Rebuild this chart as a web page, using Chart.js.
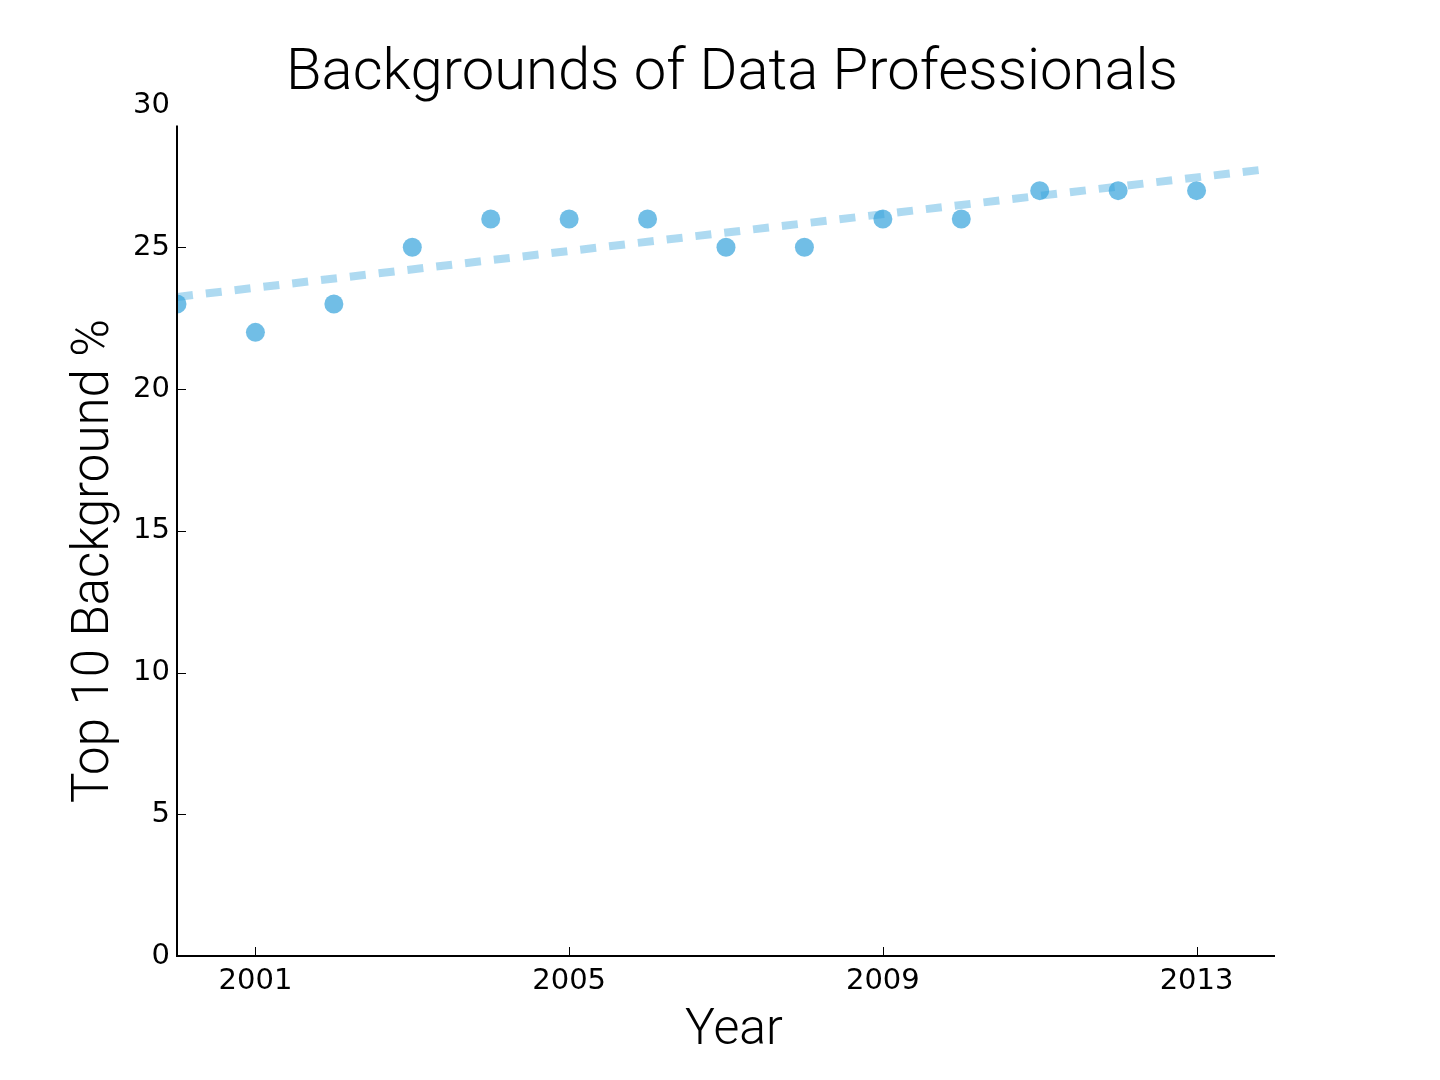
<!DOCTYPE html>
<html>
<head>
<meta charset="utf-8">
<script src="https://cdn.jsdelivr.net/npm/chart.js@4.4.1/dist/chart.umd.min.js"></script>
<style>
  html, body { margin: 0; padding: 0; background: #fff; }
  #wrap { width: 1440px; height: 1080px; }
</style>
</head>
<body>
<div id="wrap"><canvas id="chart" width="1440" height="1080"></canvas></div>
<script>
// ---------- data ----------
var years = [2000, 2001, 2002, 2003, 2004, 2005, 2006, 2007, 2008, 2009, 2010, 2011, 2012, 2013];
var percents = [23, 22, 23, 25, 26, 26, 26, 25, 25, 26, 26, 27, 27, 27];
// dashed trend line end points
var trendYears = [2000, 2013.87];
var trendValues = [23.25, 27.75];
var xTicks = [2001, 2005, 2009, 2013];
var yTicks = [0, 5, 10, 15, 20, 25, 30];

var scatterData = years.map(function (y, i) {
  return { x: y, y: percents[i] };
});
var trendData = trendYears.map(function (y, i) {
  return { x: y, y: trendValues[i] };
});

var lightFont = "Roboto, 'Helvetica Neue', Helvetica, Arial, sans-serif";
var tickFont = "'DejaVu Sans', sans-serif";

// spines + inward ticks + axis titles (matplotlib look)
var axesPlugin = {
  id: "axesLook",
  afterDraw: function (chart) {
    var ctx = chart.ctx;
    var xs = chart.scales.x;
    var ys = chart.scales.y;
    var area = chart.chartArea;
    var spineTop = ys.getPixelForValue(29.3);

    ctx.save();
    ctx.strokeStyle = "#000";
    ctx.lineWidth = 2;
    ctx.beginPath();
    ctx.moveTo(area.left, spineTop);
    ctx.lineTo(area.left, area.bottom);
    ctx.lineTo(area.right, area.bottom);
    ctx.stroke();

    ctx.lineWidth = 1;
    ctx.beginPath();
    yTicks.forEach(function (v) {
      if (v > 29.3) return;
      var py = Math.round(ys.getPixelForValue(v)) + 0.5;
      ctx.moveTo(area.left, py);
      ctx.lineTo(area.left + 9, py);
    });
    xTicks.forEach(function (v) {
      var px = Math.round(xs.getPixelForValue(v)) + 0.5;
      ctx.moveTo(px, area.bottom);
      ctx.lineTo(px, area.bottom - 9);
    });
    ctx.stroke();

    ctx.fillStyle = "#000";
    ctx.textAlign = "center";
    ctx.textBaseline = "middle";

    // x axis title
    ctx.font = "300 50px " + lightFont;
    ctx.fillText("Year", 734, 1031);

    // y axis title
    ctx.font = "300 51px " + lightFont;
    ctx.translate(95, 561);
    ctx.rotate(-Math.PI / 2);
    ctx.fillText("Top 10 Background %", 0, 0);
    ctx.restore();
  }
};

var ctx = document.getElementById("chart").getContext("2d");

var chart = new Chart(ctx, {
  type: "scatter",
  data: {
    datasets: [
      {
        label: "Background %",
        data: scatterData,
        backgroundColor: "rgba(52,163,220,0.7)",
        borderWidth: 0,
        pointRadius: 9.5,
        pointHoverRadius: 9.5,
        clip: 0
      },
      {
        type: "line",
        label: "Trend",
        data: trendData,
        borderColor: "rgba(52,163,220,0.4)",
        borderWidth: 8,
        borderDash: [16, 13],
        pointRadius: 0,
        fill: false,
        clip: 0
      }
    ]
  },
  options: {
    responsive: false,
    animation: false,
    layout: {
      padding: { left: 24, right: 0, top: 0, bottom: 0 }
    },
    plugins: {
      legend: { display: false },
      tooltip: { enabled: false },
      title: {
        display: true,
        text: "Backgrounds of Data Professionals",
        color: "#000",
        font: { family: lightFont, size: 58, weight: "300", lineHeight: 1.0 },
        padding: { top: 45.3, bottom: 2.3 }
      }
    },
    scales: {
      x: {
        type: "linear",
        min: 2000,
        max: 2014,
        grid: { display: false, drawTicks: false },
        border: { display: false },
        afterBuildTicks: function (scale) {
          scale.ticks = xTicks.map(function (v) { return { value: v }; });
        },
        afterFit: function (scale) {
          scale.height = 124;
        },
        ticks: {
          color: "#000",
          padding: 8,
          maxRotation: 0,
          font: { family: tickFont, size: 29 },
          callback: function (v) { return String(v); }
        }
      },
      y: {
        min: 0,
        max: 30,
        grid: { display: false, drawTicks: false },
        border: { display: false },
        afterBuildTicks: function (scale) {
          scale.ticks = yTicks.map(function (v) { return { value: v }; });
        },
        afterFit: function (scale) {
          scale.width = 153;
        },
        ticks: {
          color: "#000",
          padding: 7,
          font: { family: tickFont, size: 29 }
        }
      },
      // empty right-hand space so the plot ends where the reference does
      yRight: {
        position: "right",
        display: true,
        grid: { display: false, drawTicks: false },
        border: { display: false },
        ticks: { display: false },
        afterFit: function (scale) {
          scale.width = 165;
        }
      }
    }
  },
  plugins: [axesPlugin]
});
</script>
</body>
</html>
